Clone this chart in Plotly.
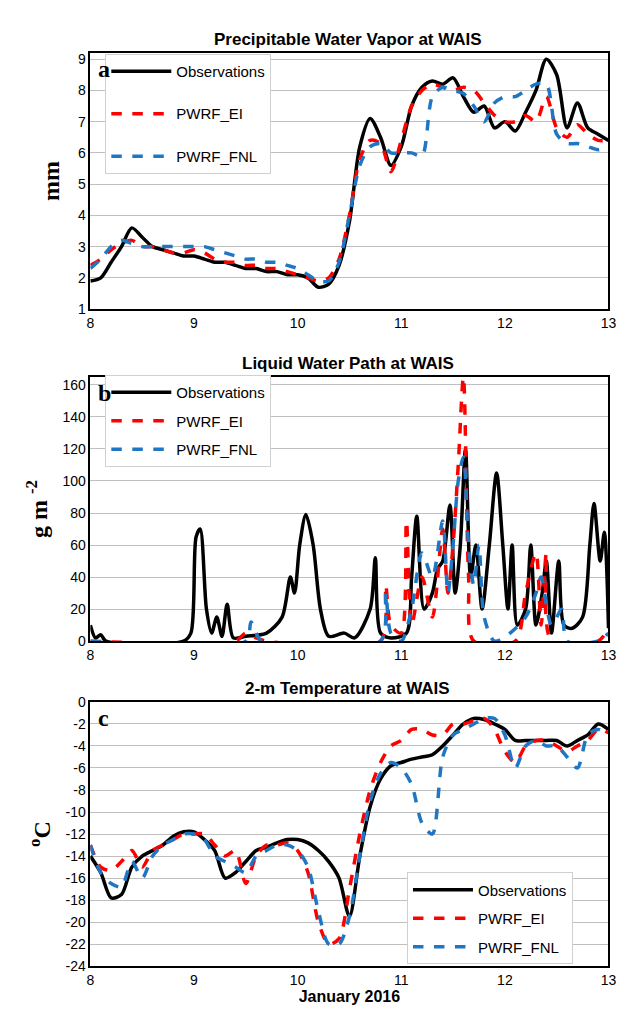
import plotly.graph_objects as go

t = [round(8 + 0.1 * i, 1) for i in range(51)]
pwv_obs = [1.9,2.0,2.5,3.0,3.6,3.3,3.0,2.9,2.8,2.7,2.7,2.6,2.5,2.5,2.4,2.3,2.3,2.2,2.2,2.1,2.1,2.0,1.7,1.8,2.4,3.8,6.2,7.1,6.5,5.6,6.2,7.5,8.1,8.3,8.2,8.4,7.8,7.3,7.5,6.8,7.0,6.7,7.3,8.0,9.0,8.5,6.8,7.6,6.8,6.6,6.4]
pwv_ei = [2.4,2.6,2.9,3.1,3.2,3.0,3.0,2.9,2.8,2.8,2.9,2.8,2.6,2.5,2.5,2.4,2.4,2.3,2.3,2.2,2.1,2.0,1.9,2.0,2.6,4.0,5.8,6.4,6.3,5.4,6.4,7.5,8.0,8.2,8.1,8.0,8.1,8.0,7.6,7.2,7.0,7.0,7.2,7.0,7.8,6.8,6.5,6.9,6.6,6.4,6.4]
pwv_fnl = [2.3,2.6,3.0,3.2,3.1,3.0,3.0,3.0,3.0,3.0,3.0,3.0,2.9,2.8,2.7,2.6,2.6,2.5,2.5,2.4,2.3,2.1,1.9,1.9,2.5,4.0,5.6,6.2,6.3,6.0,6.0,6.0,5.9,7.8,8.1,8.0,7.9,7.5,7.0,7.6,7.8,7.8,8.0,8.2,8.2,6.6,6.3,6.3,6.2,6.1,6.2]

lwp_obs_t = [8.0,8.05,8.1,8.15,8.9,8.97,9.02,9.06,9.12,9.17,9.22,9.27,9.32,9.38,9.5,9.7,9.85,9.93,9.97,10.02,10.08,10.15,10.22,10.3,10.45,10.55,10.7,10.75,10.8,10.9,11.05,11.1,11.15,11.22,11.3,11.35,11.4,11.47,11.52,11.57,11.62,11.67,11.72,11.78,11.85,11.92,11.98,12.03,12.07,12.12,12.2,12.25,12.3,12.36,12.4,12.45,12.52,12.57,12.65,12.75,12.82,12.86,12.92,12.96,13.0]
lwp_obs = [10,2,4,0,0,5,65,70,20,5,15,3,23,2,3,5,15,40,30,60,79,60,20,3,5,2,20,52,5,2,5,40,78,20,30,45,50,85,30,60,120,40,60,20,60,105,60,20,60,10,20,60,10,30,50,5,50,10,8,15,60,86,50,68,8]
lwp_ei_t = [8,9.4,9.5,9.6,9.7,10.8,10.85,10.9,11.0,11.05,11.1,11.2,11.3,11.4,11.45,11.5,11.55,11.6,11.65,11.7,12.1,12.2,12.3,12.35,12.4,12.45,12.9,13]
lwp_ei = [0,0,5,2,0,0,35,10,5,75,10,40,15,70,30,60,110,165,40,0,0,30,55,10,55,0,0,8]
lwp_fnl_t = [8,9.5,9.55,9.6,9.65,10.8,10.85,10.9,11.0,11.1,11.2,11.3,11.4,11.45,11.5,11.55,11.6,11.65,11.7,11.75,11.8,11.9,12.05,12.2,12.3,12.35,12.45,12.55,12.6,12.9,13]
lwp_fnl = [0,0,12,5,0,0,30,5,0,20,55,40,75,30,60,100,115,60,35,60,15,0,5,15,30,40,10,20,0,0,5]

tc_obs = [-14,-15.5,-17.8,-17.5,-15,-14,-13.5,-13,-12.2,-11.8,-11.8,-12.5,-13.5,-16,-15.5,-14.5,-13.5,-13.2,-12.8,-12.5,-12.5,-12.8,-13.5,-14.5,-16,-19.5,-14,-9.5,-7,-5.8,-5.5,-5.2,-5,-4.8,-4,-3,-2,-1.5,-1.6,-2,-2.5,-3.5,-3.5,-3.5,-3.5,-3.5,-4,-3.5,-3,-2,-2.5]
tc_ei = [-13,-15,-15.3,-14.5,-13.5,-15,-13.5,-13,-12.5,-12,-12,-12,-13,-14,-13.5,-16.5,-14,-13,-13,-12.8,-13.5,-15.5,-20,-22,-21.5,-17,-12,-8,-5.5,-4,-3.5,-2.5,-2.5,-3,-3,-2,-2,-1.7,-1.5,-2.5,-4.5,-5.5,-4,-3.5,-3.5,-4,-4.5,-4,-3.5,-2.5,-2.8]
tc_fnl = [-13,-15.5,-16.5,-16.8,-14.5,-16,-14,-13,-12.5,-12,-12,-12.5,-14,-14.5,-15,-15.5,-14,-13.5,-13,-13,-13.5,-15,-19,-22,-22,-19.5,-14,-9,-6.5,-5.5,-6,-7.5,-11,-12,-5,-3,-2.5,-2,-1.5,-1.5,-3,-6,-4,-3.5,-4,-4,-5,-6,-3,-2.5,-3]
tc_ticks = [0, -2, -4, -6, -8, -10, -12, -14, -16, -18, -20, -22, -24]
tc_ticklabels = ["0", "-2", "-4", "-6", "-8", "-10", "-12", "-14", "-16", "-18", "-20", "-22", "-24"]

names = ["Observations", "PWRF_EI", "PWRF_FNL"]
colors = ["black", "#ff0000", "#1f77c4"]
dashes = ["solid", "dash", "dash"]

fig = go.Figure()
panels = [
    ([t, t, t], [pwv_obs, pwv_ei, pwv_fnl], "", "legend"),
    ([lwp_obs_t, lwp_ei_t, lwp_fnl_t], [lwp_obs, lwp_ei, lwp_fnl], "2", "legend2"),
    ([t, t, t], [tc_obs, tc_ei, tc_fnl], "3", "legend3"),
]
for xs, ys, ax, lg in panels:
    for i in range(3):
        fig.add_trace(go.Scatter(x=xs[i], y=ys[i], mode="lines", name=names[i],
                                 legendgroup=lg + str(i),
                                 line=dict(color=colors[i], width=3.5, dash=dashes[i],
                                           shape="spline", smoothing=0.8),
                                 xaxis="x" + ax, yaxis="y" + ax, legend=lg))

xdoms = [0.126, 0.959]
common_x = dict(range=[8, 13], dtick=1, showline=True, linecolor="black", linewidth=1.5,
                mirror=True, ticks="", showgrid=False, zeroline=False,
                tickfont=dict(family="Arial", size=14, color="black"), domain=xdoms)
common_y = dict(showline=True, linecolor="black", linewidth=1.5, mirror=True, ticks="",
                showgrid=True, gridcolor="#bfbfbf", zeroline=False,
                tickfont=dict(family="Arial", size=14, color="black"))
ytitle = dict(family="Times New Roman, Liberation Serif", size=24, color="black")
leg = dict(font=dict(family="Arial", size=15, color="black"), bgcolor="white",
           bordercolor="#d0d0d0", borderwidth=1, xanchor="left", yanchor="top", itemwidth=60)
fig.update_layout(
    width=634, height=1013, margin=dict(l=0, r=0, t=0, b=0),
    plot_bgcolor="white", paper_bgcolor="white",
    xaxis=dict(**common_x, anchor="y"),
    xaxis2=dict(**common_x, anchor="y2"),
    xaxis3=dict(**common_x, anchor="y3",
                title=dict(text="<b>January 2016</b>", font=dict(family="Arial", size=16, color="black"), standoff=2)),
    yaxis=dict(**common_y, domain=[0.706, 0.963], range=[1, 9.2], dtick=1, anchor="x",
               title=dict(text="<b>mm</b>", font=ytitle, standoff=12)),
    yaxis2=dict(**common_y, domain=[0.373, 0.638], range=[0, 165], dtick=20, anchor="x2",
                title=dict(text="<b>g m <sup>-2</sup></b>", font=ytitle, standoff=8)),
    yaxis3=dict(**common_y, domain=[0.047, 0.312], range=[-24, 0], anchor="x3",
                tickvals=tc_ticks, ticktext=tc_ticklabels,
                title=dict(text="<b><sup>o</sup>C</b>", font=ytitle, standoff=8)),
    legend=dict(**leg, x=0.15, y=0.962, tracegroupgap=20),
    legend2=dict(**leg, x=0.15, y=0.64, tracegroupgap=6),
    legend3=dict(**leg, x=0.635, y=0.141, tracegroupgap=6),
    showlegend=True,
)
titles = [("Precipitable Water Vapor at WAIS", 0.965), ("Liquid Water Path at WAIS", 0.64), ("2-m Temperature at WAIS", 0.314)]
for txt, y in titles:
    fig.add_annotation(text="<b>" + txt + "</b>", x=0.54, y=y, xref="paper", yref="paper",
                       xanchor="center", yanchor="bottom", showarrow=False,
                       font=dict(family="Arial", size=17, color="black"))
for letter, y in [("a", 0.962), ("b", 0.637), ("c", 0.311)]:
    fig.add_annotation(text="<b>" + letter + "</b>", x=0.135, y=y, xref="paper", yref="paper",
                       xanchor="left", yanchor="top", showarrow=False,
                       font=dict(family="Times New Roman, Liberation Serif", size=24, color="black"))
fig.write_html("out.html")
